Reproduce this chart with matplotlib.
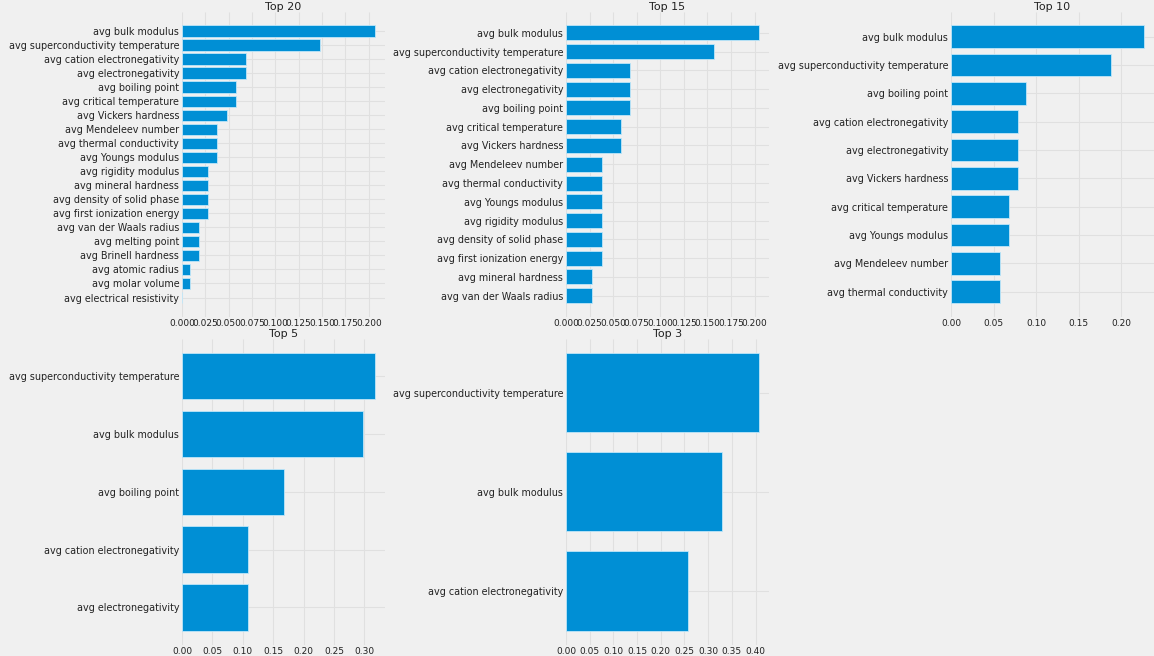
import matplotlib
matplotlib.use("Agg")
import matplotlib.pyplot as plt

plt.style.use("fivethirtyeight")
plt.rcParams["font.family"] = ["DejaVu Sans"]

# ---------------- data ----------------
top20_features = [
    "avg bulk modulus", "avg superconductivity temperature", "avg cation electronegativity",
    "avg electronegativity", "avg boiling point", "avg critical temperature",
    "avg Vickers hardness", "avg Mendeleev number", "avg thermal conductivity",
    "avg Youngs modulus", "avg rigidity modulus", "avg mineral hardness",
    "avg density of solid phase", "avg first ionization energy", "avg van der Waals radius",
    "avg melting point", "avg Brinell hardness", "avg atomic radius",
    "avg molar volume", "avg electrical resistivity",
]
top20_values = [0.207, 0.148, 0.068, 0.068, 0.058, 0.058, 0.048, 0.038, 0.038, 0.038,
                0.028, 0.028, 0.028, 0.028, 0.018, 0.018, 0.018, 0.009, 0.009, 0.0]

top15_features = [
    "avg bulk modulus", "avg superconductivity temperature", "avg cation electronegativity",
    "avg electronegativity", "avg boiling point", "avg critical temperature",
    "avg Vickers hardness", "avg Mendeleev number", "avg thermal conductivity",
    "avg Youngs modulus", "avg rigidity modulus", "avg density of solid phase",
    "avg first ionization energy", "avg mineral hardness", "avg van der Waals radius",
]
top15_values = [0.205, 0.157, 0.068, 0.068, 0.068, 0.058, 0.058, 0.038, 0.038, 0.038,
                0.038, 0.038, 0.038, 0.028, 0.028]

top10_features = [
    "avg bulk modulus", "avg superconductivity temperature", "avg boiling point",
    "avg cation electronegativity", "avg electronegativity", "avg Vickers hardness",
    "avg critical temperature", "avg Youngs modulus", "avg Mendeleev number",
    "avg thermal conductivity",
]
top10_values = [0.227, 0.188, 0.088, 0.079, 0.079, 0.079, 0.068, 0.068, 0.058, 0.058]

top5_features = [
    "avg superconductivity temperature", "avg bulk modulus", "avg boiling point",
    "avg cation electronegativity", "avg electronegativity",
]
top5_values = [0.318, 0.298, 0.168, 0.108, 0.108]

top3_features = [
    "avg superconductivity temperature", "avg bulk modulus", "avg cation electronegativity",
]
top3_values = [0.408, 0.329, 0.258]

titles = ["Top 20", "Top 15", "Top 10", "Top 5", "Top 3"]
top20_ticks = [0.0, 0.025, 0.05, 0.075, 0.1, 0.125, 0.15, 0.175, 0.2]
top15_ticks = [0.0, 0.025, 0.05, 0.075, 0.1, 0.125, 0.15, 0.175, 0.2]
top10_ticks = [0.0, 0.05, 0.1, 0.15, 0.2]
top5_ticks = [0.0, 0.05, 0.1, 0.15, 0.2, 0.25, 0.3]
top3_ticks = [0.0, 0.05, 0.1, 0.15, 0.2, 0.25, 0.3, 0.35, 0.4]
top20_ticklabels = ["0.000", "0.025", "0.050", "0.075", "0.100", "0.125", "0.150", "0.175", "0.200"]
top15_ticklabels = top20_ticklabels
top10_ticklabels = ["0.00", "0.05", "0.10", "0.15", "0.20"]
top5_ticklabels = ["0.00", "0.05", "0.10", "0.15", "0.20", "0.25", "0.30"]
top3_ticklabels = ["0.00", "0.05", "0.10", "0.15", "0.20", "0.25", "0.30", "0.35", "0.40"]

# ---------------- figure ----------------
W, H = 1154, 656
fig = plt.figure(figsize=(W / 100, H / 100), dpi=100, facecolor="#f0f0f0")

lefts = [182 / W, 566 / W, 951 / W]
width = 203 / W
height = 305.5 / H
bottoms = [1 - 317 / H, 1 - 644.5 / H]

panels = [
    (top20_features, top20_values, top20_ticks, top20_ticklabels, 0, 0),
    (top15_features, top15_values, top15_ticks, top15_ticklabels, 0, 1),
    (top10_features, top10_values, top10_ticks, top10_ticklabels, 0, 2),
    (top5_features, top5_values, top5_ticks, top5_ticklabels, 1, 0),
    (top3_features, top3_values, top3_ticks, top3_ticklabels, 1, 1),
]

for (feats, vals, ticks, ticklabels, r, c), title in zip(panels, titles):
    ax = fig.add_axes([lefts[c], bottoms[r], width, height])
    ax.set_facecolor("#f0f0f0")
    ax.barh(feats, vals, color="#008fd5", edgecolor="#bfe6f8", linewidth=0.6, zorder=2)
    ax.invert_yaxis()
    ax.set_xticks(ticks)
    ax.set_xticklabels(ticklabels)
    ax.tick_params(axis="both", length=0, colors="#222222")
    ax.tick_params(axis="y", pad=2, labelsize=6.9)
    ax.tick_params(axis="x", pad=1.5, labelsize=6.5)
    ax.grid(True, color="#e0e0e0", linewidth=0.8, zorder=0)
    ax.set_axisbelow(True)
    for s in ax.spines.values():
        s.set_visible(False)
    ax.set_title(title, fontsize=8, pad=1, color="#222222")

fig.savefig("out.png", dpi=100, facecolor="#f0f0f0")
